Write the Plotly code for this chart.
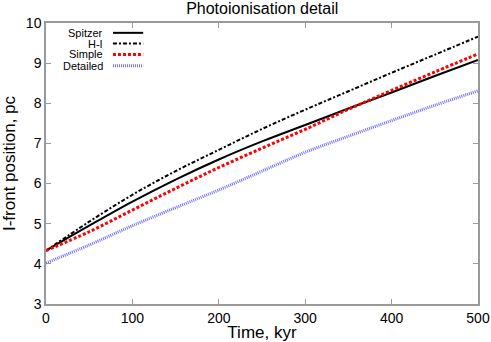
import plotly.graph_objects as go

time_kyr = [0, 50, 100, 150, 200, 250, 300, 350, 400, 450, 500]
spitzer = [4.33, 4.95, 5.55, 6.10, 6.60, 7.05, 7.46, 7.87, 8.27, 8.68, 9.08]
h_i = [4.33, 5.05, 5.72, 6.31, 6.84, 7.36, 7.84, 8.30, 8.76, 9.21, 9.66]
simple = [4.33, 4.80, 5.34, 5.88, 6.40, 6.88, 7.35, 7.85, 8.32, 8.78, 9.23]
detailed = [4.02, 4.47, 4.95, 5.40, 5.84, 6.31, 6.78, 7.18, 7.57, 7.95, 8.31]

names = ["Spitzer", "H-I", "Simple", "Detailed"]
styles = [
    dict(color="black", width=2, dash="solid"),
    dict(color="black", width=2, dash="4px,2px,2px,2px"),
    dict(color="#ff0000", width=3, dash="3px,2px"),
    dict(color="#7070ff", width=3, dash="1px,1px"),
]

fig = go.Figure()
for name, ys, st in zip(names, [spitzer, h_i, simple, detailed], styles):
    fig.add_trace(go.Scatter(x=time_kyr, y=ys, mode="lines", name=name,
                             line=dict(shape="spline", **st), showlegend=False))

# legend drawn by hand: label on the left, line sample on the right
rows = [0.965, 0.927, 0.888, 0.848]
for name, st, yy in zip(names, styles, rows):
    fig.add_annotation(x=0.137, y=yy, xref="x domain", yref="y domain",
                       text=name, showarrow=False, xanchor="right", yanchor="middle",
                       font=dict(size=11, color="black"))
    fig.add_shape(type="line", xref="x domain", yref="y domain",
                  x0=0.155, x1=0.225, y0=yy, y1=yy, line=st)

axis = dict(showline=True, linecolor="#9a9a9a", linewidth=1.5, mirror="ticks",
            ticks="inside", ticklen=5, tickcolor="#9a9a9a", showgrid=False,
            zeroline=False, automargin=False, tickfont=dict(size=14, color="black"))

fig.update_xaxes(range=[0, 500], dtick=100, title=dict(text="Time, kyr", standoff=4,
                 font=dict(size=17, color="black")), **axis)
fig.update_yaxes(range=[3, 10], dtick=1, title=dict(text="I-front position, pc", standoff=8,
                 font=dict(size=17, color="black")), **axis)

fig.update_layout(
    width=491, height=342,
    margin=dict(l=46, r=13, t=23, b=38, autoexpand=False),
    title=dict(text="Photoionisation detail", x=0.534, xanchor="center", y=0.975,
               yanchor="middle", font=dict(size=16, color="black")),
    font=dict(family="Liberation Sans, Arial, sans-serif"),
    plot_bgcolor="white", paper_bgcolor="white",
)

fig.write_html("out.html", config={"displayModeBar": False},
               post_script="document.body.style.margin='0';")
